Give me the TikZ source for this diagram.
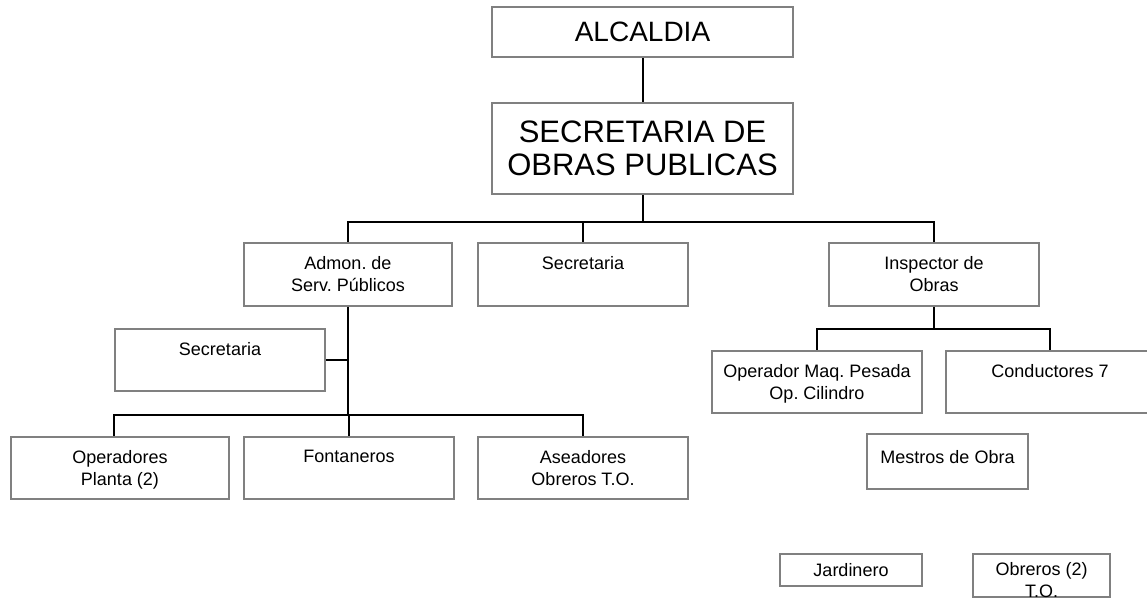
\documentclass[tikz,border=0pt]{standalone}
\usepackage{fontspec}
\setmainfont{Liberation Sans}
\usetikzlibrary{positioning}
\definecolor{borde}{RGB}{128,128,128}
\tikzset{cargo/.style={draw=borde,line width=1.6pt,fill=white,inner sep=0pt,font=\fontsize{18}{21.5}\selectfont}}
\tikzset{enlace/.style={draw=black,line width=2pt}}
\newcommand{\Cargo}[4][13.6pt]{\parbox[c][#3][t]{#2}{\centering\frenchspacing\vspace*{#1}#4}}

\begin{document}
\frenchspacing
\begin{tikzpicture}[x=1pt,y=-1pt]
\useasboundingbox (0,0) rectangle (1147,599);
% \draw[help lines,step=50] (0,0) grid (1147,599);
\node (alc) [cargo,minimum width=301pt,minimum height=50pt,font=\fontsize{28}{30}\selectfont] at (642.5,32) {ALCALDIA};
\node (sop) [cargo,minimum width=301pt,minimum height=91pt,align=center,font=\fontsize{31}{33}\selectfont] at (642.5,148.5) {SECRETARIA DE\\OBRAS PUBLICAS};
%
\node (adm) [cargo] at (348,274.5) {\Cargo{208pt}{63pt}{Admon. de\\Serv. Públicos}};
\node (sec) [cargo] at (583,274.5) {\Cargo{210pt}{63pt}{Secretaria}};
\node (ins) [cargo] at (934,274.5) {\Cargo{210pt}{63pt}{Inspector de\\Obras}};
\node (sec2) [cargo] at (220,360) {\Cargo{210pt}{62pt}{Secretaria}};
%
\node (ope) [cargo] at (120,468) {\Cargo{218pt}{62pt}{Operadores\\Planta (2)}};
\node (fon) [cargo] at (349,468) {\Cargo{210pt}{62pt}{Fontaneros}};
\node (ase) [cargo] at (583,468) {\Cargo{210pt}{62pt}{Aseadores\\Obreros T.O.}};
%
\node (maq) [cargo] at (817,382) {\Cargo{210pt}{62pt}{Operador Maq. Pesada\\Op. Cilindro}};
\node (con) [cargo] at (1050,382) {\Cargo{208pt}{62pt}{Conductores 7}};
\node (mae) [cargo] at (947.5,461.5) {\Cargo[16.6pt]{161pt}{55pt}{Mestros de Obra}};
\node (jar) [cargo] at (851,570) {\Cargo[9.6pt]{142pt}{32pt}{Jardinero}};
\node (obr) [cargo] at (1041.5,575.5) {\Cargo[8.6pt]{137pt}{43pt}{Obreros (2)\\T.O.}};
%
\draw[enlace] (alc) -- (sop);
\draw[enlace] (sop.south) -- ++(0,27) coordinate (barra1);
\draw[enlace] (barra1) -| (adm.north);
\draw[enlace] (barra1) -| (sec.north);
\draw[enlace] (barra1) -| (ins.north);
%
\draw[enlace] (adm.south) -- ++(0,108) coordinate (barra2);
\draw[enlace] (barra2) -| ([xshift=-6pt]ope.north);
\draw[enlace] (barra2) -| (fon.north);
\draw[enlace] (barra2) -| (ase.north);
\draw[enlace] (sec2.east) -- (sec2.east -| adm.south);
%
\draw[enlace] (ins.south) -- ++(0,22) coordinate (barra3);
\draw[enlace] (barra3) -| (maq.north);
\draw[enlace] (barra3) -| (con.north);
\end{tikzpicture}
\end{document}
